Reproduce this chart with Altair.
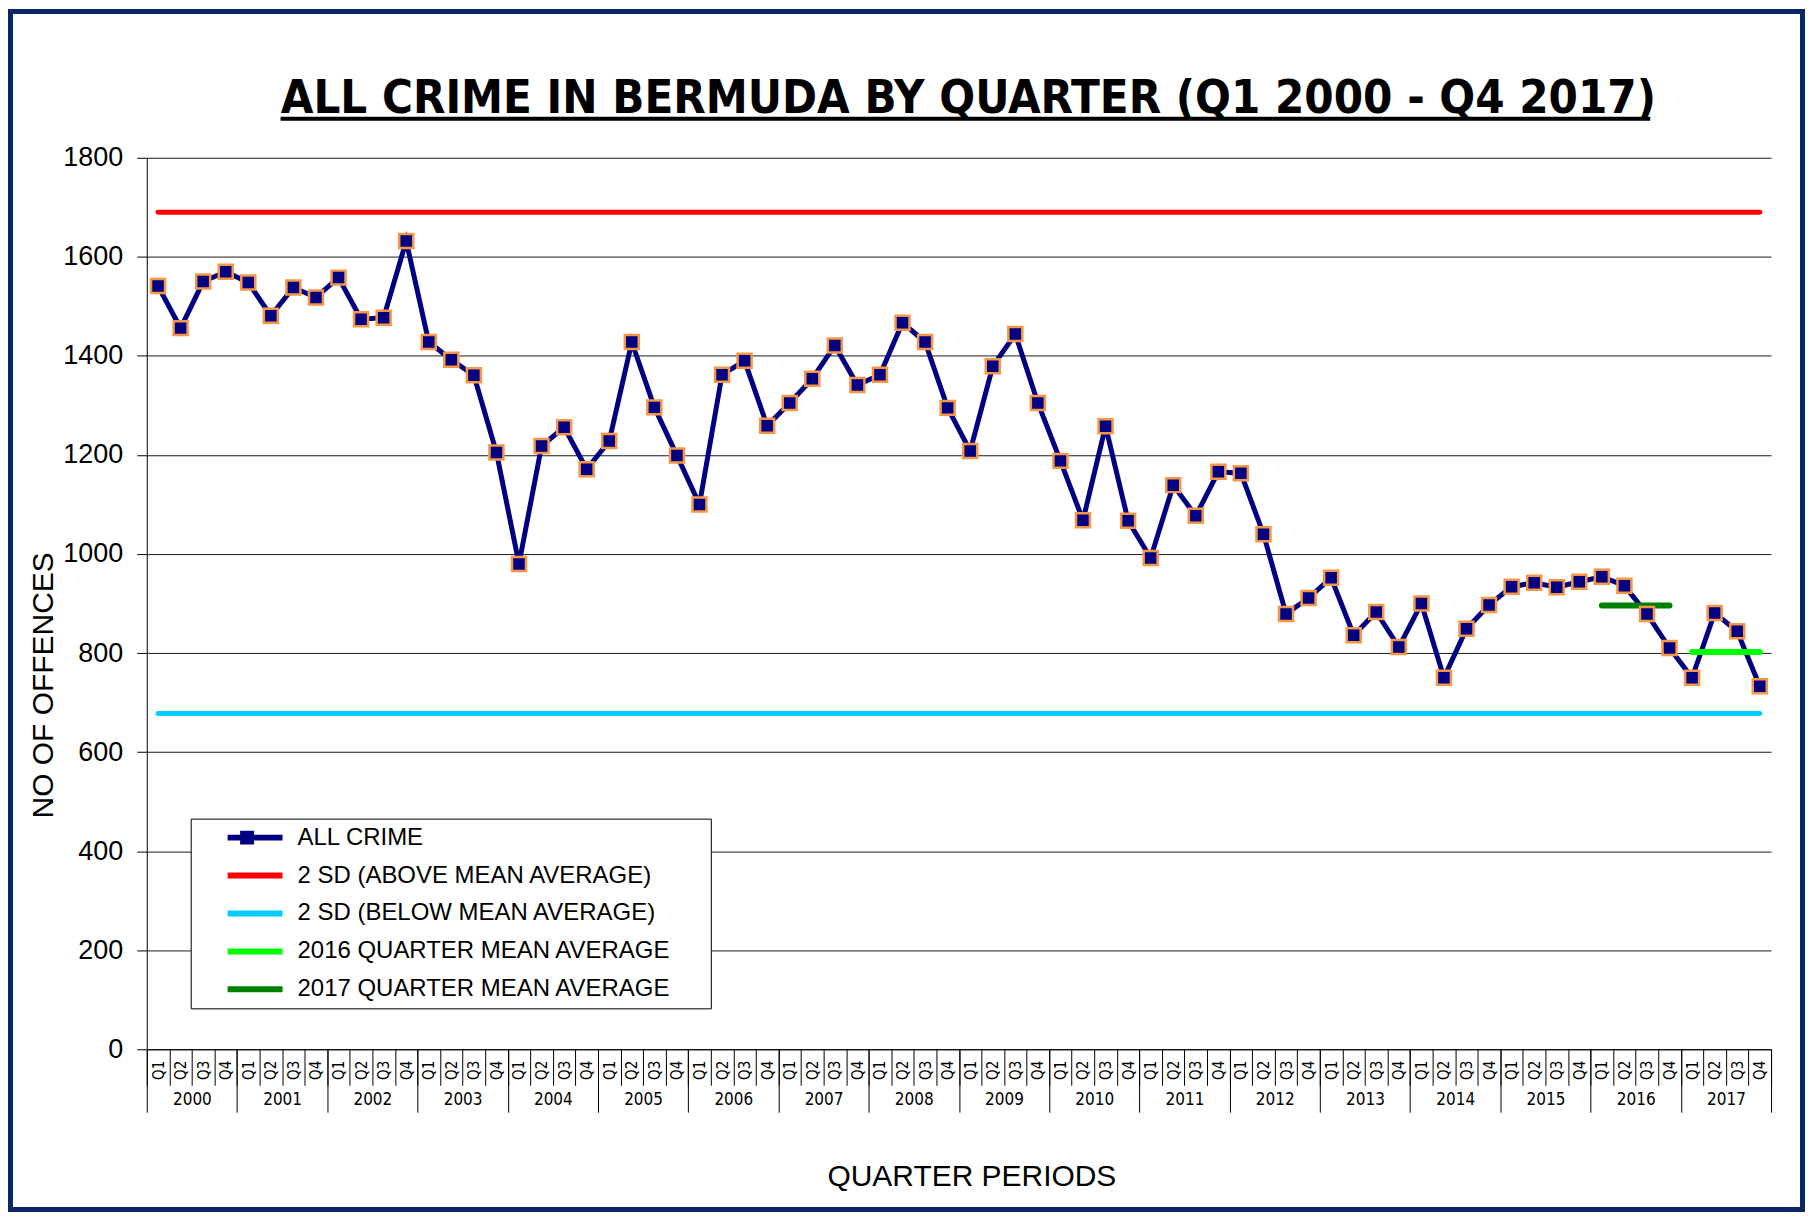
import altair as alt
import pandas as pd

# ---------------- data ----------------
years = list(range(2000, 2018))
quarters = ["Q1", "Q2", "Q3", "Q4"]

all_crime = [
    1541, 1456, 1550, 1570,   # 2000
    1548, 1481, 1538, 1518,   # 2001
    1558, 1474, 1477, 1632,   # 2002
    1428, 1392, 1361, 1205,   # 2003
    980, 1218, 1256, 1171,    # 2004
    1228, 1428, 1296, 1199,   # 2005
    1100, 1362, 1390, 1259,   # 2006
    1305, 1354, 1421, 1341,   # 2007
    1362, 1467, 1428, 1295,   # 2008
    1208, 1379, 1444, 1305,   # 2009
    1188, 1068, 1258, 1067,   # 2010
    992, 1139, 1077, 1166,    # 2011
    1163, 1040, 879, 911,     # 2012
    952, 836, 883, 812,       # 2013
    900, 750, 849, 897,       # 2014
    934, 942, 933, 944,       # 2015
    954, 936, 879, 810,       # 2016
    750, 881, 844, 733,       # 2017
]

series_names = [
    "ALL CRIME",
    "2 SD (ABOVE MEAN AVERAGE)",
    "2 SD (BELOW MEAN AVERAGE)",
    "2016 QUARTER MEAN AVERAGE",
    "2017 QUARTER MEAN AVERAGE",
]
series_colors = ["#000080", "#FF0000", "#00CCFF", "#00FF00", "#008000"]

sd_series = ["2 SD (ABOVE MEAN AVERAGE)", "2 SD (BELOW MEAN AVERAGE)"]
sd_values = [1690, 678]

mean_series = ["2016 QUARTER MEAN AVERAGE", "2017 QUARTER MEAN AVERAGE"]
mean_values = [802, 896]
mean_span_years = [2017, 2016]   # the quarters each bar is drawn over in the source

title_text = "ALL CRIME IN BERMUDA BY QUARTER (Q1 2000 - Q4 2017)"
y_title = "NO OF OFFENCES"
x_title = "QUARTER PERIODS"

# ---------------- tables ----------------
n = len(all_crime)
crime_df = pd.DataFrame({
    "pos": [i + 0.5 for i in range(n)],
    "value": all_crime,
    "series": ["ALL CRIME"] * n,
})
sd_df = pd.DataFrame({
    "series": sd_series,
    "value": sd_values,
    "start": [0.5] * len(sd_series),
    "end": [n - 0.5] * len(sd_series),
})
mean_df = pd.DataFrame({
    "series": mean_series,
    "value": mean_values,
    "start": [(y - years[0]) * 4 + 0.5 for y in mean_span_years],
    "end": [(y - years[0]) * 4 + 3.5 for y in mean_span_years],
})
one_row = pd.DataFrame({"t": [title_text]})

W, H = 1627, 893
NARROW = "Liberation Sans Narrow, Arial Narrow, DejaVu Sans Condensed, sans-serif"
SANS = "Liberation Sans, Arial, sans-serif"

xscale = alt.Scale(domain=[0, n], nice=False, zero=False)
yscale = alt.Scale(domain=[0, 1800], nice=False, zero=True)

y_axis = alt.Axis(
    values=list(range(0, 1801, 200)), format="d", grid=True, gridColor="#1a1a1a",
    gridWidth=1, tickSize=10, tickColor="black", domainColor="black",
    labelFontSize=27, labelFont=SANS, labelColor="black", labelPadding=14,
    title=y_title, titleFontSize=30, titleFont=SANS, titleFontWeight="normal",
    titleColor="black", titleAngle=270, titleX=-103, titleY=528,
    titleAlign="center", titleBaseline="middle",
)

axis_ticks_q = alt.Axis(
    orient="bottom", values=list(range(n + 1)), tickSize=36, tickColor="black",
    tickWidth=1, labels=False, grid=False, domain=True, domainColor="black",
    domainWidth=1, title=None,
)
axis_labels_q = alt.Axis(
    orient="bottom", values=[i + 0.5 for i in range(n)],
    labelExpr="'Q' + (floor(datum.value) % 4 + 1)",
    labelAngle=270, labelAlign="right", labelBaseline="middle",
    labelFontSize=15, labelFont=NARROW, labelColor="black", labelPadding=11,
    labelOverlap=False, labelFlush=False, labelBound=False,
    ticks=False, tickSize=0, domain=False, grid=False, title=None,
)
axis_labels_y = alt.Axis(
    orient="bottom", values=[k * 4 + 2 for k in range(len(years))],
    labelExpr="'' + (2000 + floor(datum.value / 4))",
    labelFontSize=17, labelFont=NARROW, labelColor="black", labelPadding=42,
    labelBaseline="top", labelOverlap=False, labelFlush=False, labelBound=False,
    ticks=False, tickSize=0, domain=False, grid=False,
    title=x_title, titleFontSize=30, titleFont=SANS, titleFontWeight="normal",
    titleColor="black", titleX=826, titleY=127, titleAlign="center",
    titleBaseline="middle", titleAngle=0,
)
axis_ticks_y = alt.Axis(
    orient="bottom", values=list(range(0, n + 1, 4)), tickSize=63,
    tickColor="black", tickWidth=1, labels=False, domain=False, grid=False,
    title=None,
)

line_legend = alt.Legend(
    title=None, orient="none", legendX=44, legendY=662, direction="vertical",
    symbolType="M-1,0H1", symbolSize=3025, symbolStrokeWidth=6,
    clipHeight=38, rowPadding=0, padding=0, symbolOffset=34, labelOffset=12,
    labelFontSize=24, labelFont=SANS, labelColor="black", labelLimit=800,
    labelExpr="datum.label + '\u00a0\u00a0\u00a0\u00a0\u00a0\u00a0\u200b'",
    strokeColor="black", fillColor="white",
)
color = alt.Color(
    "series:N",
    scale=alt.Scale(domain=series_names, range=series_colors),
    legend=line_legend,
)

# ---------------- layers ----------------
frame = alt.Chart(one_row).mark_rect(
    fill="transparent", stroke="#0b2768", strokeWidth=5
).encode(
    x=alt.value(-136.5), x2=alt.value(W + 34 - 2.5),
    y=alt.value(-146.5), y2=alt.value(H + 163 - 2.5),
)

title = alt.Chart(one_row).mark_text(
    font=NARROW, fontSize=47, fontWeight="bold", align="center",
    baseline="alphabetic", color="black",
).encode(x=alt.value(823), y=alt.value(-45), text="t:N")

underline = alt.Chart(one_row).mark_rule(color="black", strokeWidth=4).encode(
    x=alt.value(134), x2=alt.value(1506), y=alt.value(-39),
)

sd_rules = alt.Chart(sd_df).mark_rule(strokeWidth=5, strokeCap="round").encode(
    x=alt.X("start:Q", scale=xscale, axis=axis_labels_y),
    x2="end:Q",
    y=alt.Y("value:Q", scale=yscale, axis=y_axis),
    color=color,
)

crime_line = alt.Chart(crime_df).mark_line(strokeWidth=5, strokeJoin="miter").encode(
    x=alt.X("pos:Q", scale=xscale, axis=axis_ticks_q),
    y=alt.Y("value:Q", scale=yscale, axis=y_axis),
    color=color,
)

mean_rules = alt.Chart(mean_df).mark_rule(strokeWidth=6, strokeCap="round").encode(
    x=alt.X("start:Q", scale=xscale, axis=axis_ticks_y),
    x2="end:Q",
    y=alt.Y("value:Q", scale=yscale, axis=y_axis),
    color=color,
)

square_legend = alt.Legend(
    title=None, orient="none", legendX=44, legendY=662, direction="vertical",
    clipHeight=38, rowPadding=0, padding=0, symbolOffset=48,
    symbolSize=196, symbolFillColor="#000080", symbolStrokeColor="#F79646",
    symbolStrokeWidth=2.5, labelExpr="''", labelFontSize=1,
)
crime_points = alt.Chart(crime_df).mark_point(
    filled=True, size=196, fill="#000080", stroke="#F79646",
    strokeWidth=2.5, opacity=1,
).encode(
    x=alt.X("pos:Q", scale=xscale, axis=axis_labels_q),
    y=alt.Y("value:Q", scale=yscale, axis=y_axis),
    shape=alt.Shape("series:N", scale=alt.Scale(domain=["ALL CRIME"], range=["square"]),
                    legend=square_legend),
)

chart = alt.layer(
    frame, title, underline, sd_rules, crime_line, mean_rules, crime_points
).resolve_axis(x="independent").properties(
    width=W, height=H,
    autosize=alt.AutoSizeParams(type="none"),
    padding={"left": 139, "top": 149, "right": 34, "bottom": 163},
    background="white",
).configure_view(stroke=None)

chart.save("out.html", embed_options={"renderer": "svg", "actions": False})
